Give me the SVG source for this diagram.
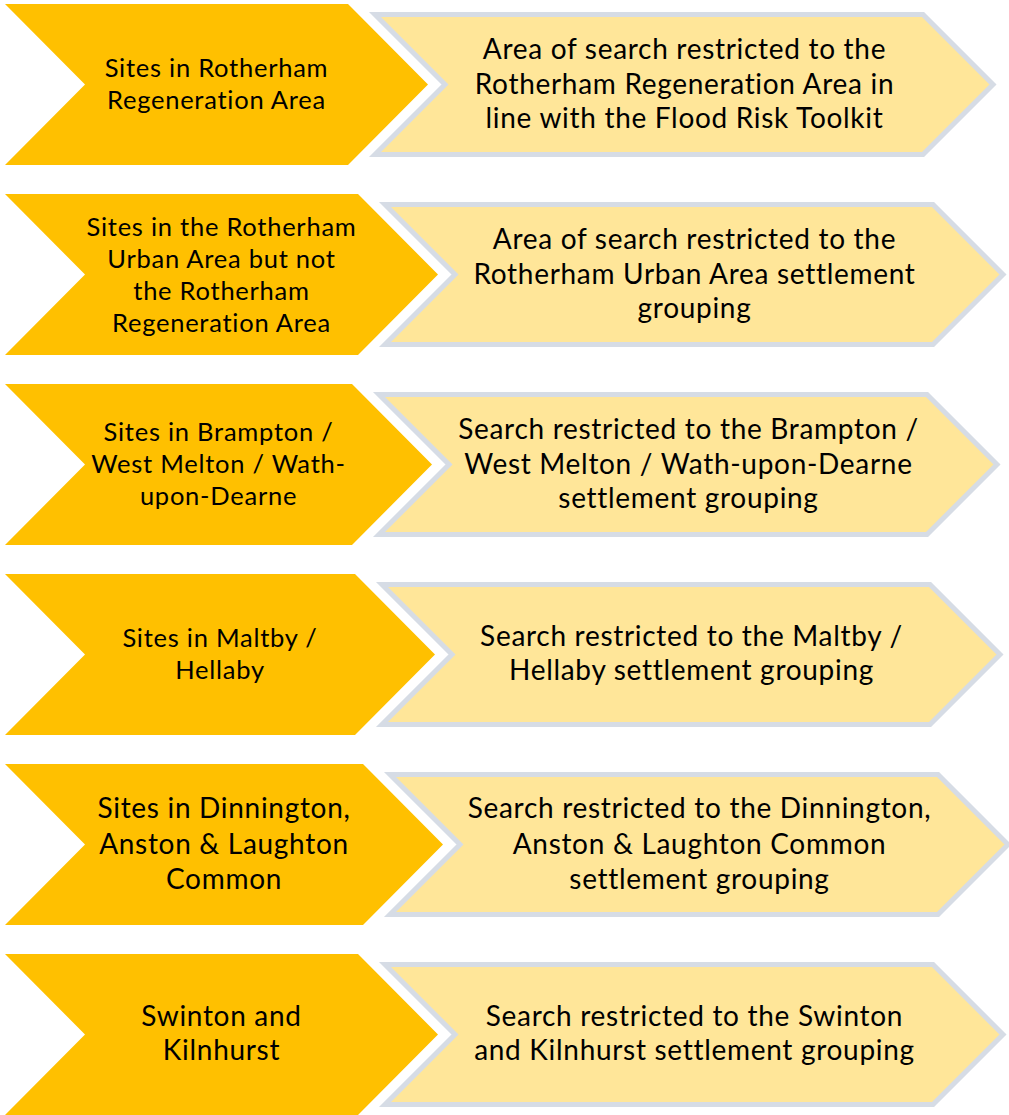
<svg xmlns="http://www.w3.org/2000/svg" width="1009" height="1115" viewBox="0 0 1009 1115">
  <style>
    .lead { fill: #FFC000; }
    .result { fill: #FFE699; stroke: #D6DCE5; stroke-width: 5; stroke-linejoin: miter; }
    text { font-family: Lato, "Liberation Sans", sans-serif; fill: #000000; text-anchor: middle; }
    .ls { font-size: 25.5px; letter-spacing: 0.75px; }
    .lb { font-size: 28px; letter-spacing: 0.7px; }
    .rt { font-size: 28px; letter-spacing: 0.7px; }
  </style>
  <rect width="1009" height="1115" fill="#FFFFFF"/>

  <!-- Row 1 -->
  <g id="lead-1">
    <polygon class="lead" points="5,4 348,4 428,84.5 348,165 5,165 85,84.5"/>
    <text class="ls" x="216.5" y="77">Sites in Rotherham</text>
    <text class="ls" x="216.5" y="109">Regeneration Area</text>
  </g>
  <g id="result-1">
    <polygon class="result" points="375,14.5 923,14.5 993,84.5 923,154.5 375,154.5 445,84.5"/>
    <text class="rt" x="684.5" y="59">Area of search restricted to the</text>
    <text class="rt" x="684.5" y="93.5">Rotherham Regeneration Area in</text>
    <text class="rt" x="684.5" y="128">line with the Flood Risk Toolkit</text>
  </g>

  <!-- Row 2 -->
  <g id="lead-2">
    <polygon class="lead" points="5,194 358,194 438,274.5 358,355 5,355 85,274.5"/>
    <text class="ls" x="221.5" y="236">Sites in the Rotherham</text>
    <text class="ls" x="221.5" y="268">Urban Area but not</text>
    <text class="ls" x="221.5" y="300">the Rotherham</text>
    <text class="ls" x="221.5" y="332">Regeneration Area</text>
  </g>
  <g id="result-2">
    <polygon class="result" points="385,204.5 933,204.5 1003,274.5 933,344.5 385,344.5 455,274.5"/>
    <text class="rt" x="694.5" y="249">Area of search restricted to the</text>
    <text class="rt" x="694.5" y="283.5">Rotherham Urban Area settlement</text>
    <text class="rt" x="694.5" y="318">grouping</text>
  </g>

  <!-- Row 3 -->
  <g id="lead-3">
    <polygon class="lead" points="5,384 352,384 432,464.5 352,545 5,545 85,464.5"/>
    <text class="ls" x="218.5" y="441">Sites in Brampton /</text>
    <text class="ls" x="218.5" y="473">West Melton / Wath-</text>
    <text class="ls" x="218.5" y="505">upon-Dearne</text>
  </g>
  <g id="result-3">
    <polygon class="result" points="379,394.5 927,394.5 997,464.5 927,534.5 379,534.5 449,464.5"/>
    <text class="rt" x="688.5" y="439">Search restricted to the Brampton /</text>
    <text class="rt" x="688.5" y="473.5">West Melton / Wath-upon-Dearne</text>
    <text class="rt" x="688.5" y="508">settlement grouping</text>
  </g>

  <!-- Row 4 -->
  <g id="lead-4">
    <polygon class="lead" points="5,574 355,574 435,654.5 355,735 5,735 85,654.5"/>
    <text class="ls" x="220" y="647">Sites in Maltby /</text>
    <text class="ls" x="220" y="679">Hellaby</text>
  </g>
  <g id="result-4">
    <polygon class="result" points="382,584.5 930,584.5 1000,654.5 930,724.5 382,724.5 452,654.5"/>
    <text class="rt" x="691.5" y="645.5">Search restricted to the Maltby /</text>
    <text class="rt" x="691.5" y="680">Hellaby settlement grouping</text>
  </g>

  <!-- Row 5 -->
  <g id="lead-5">
    <polygon class="lead" points="5,764 363,764 443,844.5 363,925 5,925 85,844.5"/>
    <text class="lb" x="224" y="818">Sites in Dinnington,</text>
    <text class="lb" x="224" y="854">Anston &amp; Laughton</text>
    <text class="lb" x="224" y="889">Common</text>
  </g>
  <g id="result-5">
    <polygon class="result" points="390,774.5 938,774.5 1008,844.5 938,914.5 390,914.5 460,844.5"/>
    <text class="rt" x="699.5" y="817.5">Search restricted to the Dinnington,</text>
    <text class="rt" x="699.5" y="853.5">Anston &amp; Laughton Common</text>
    <text class="rt" x="699.5" y="888.5">settlement grouping</text>
  </g>

  <!-- Row 6 -->
  <g id="lead-6">
    <polygon class="lead" points="5,954 358,954 438,1034.5 358,1115 5,1115 85,1034.5"/>
    <text class="lb" x="221.5" y="1026">Swinton and</text>
    <text class="lb" x="221.5" y="1060">Kilnhurst</text>
  </g>
  <g id="result-6">
    <polygon class="result" points="385,964.5 933,964.5 1003,1034.5 933,1104.5 385,1104.5 455,1034.5"/>
    <text class="rt" x="694.5" y="1025.5">Search restricted to the Swinton</text>
    <text class="rt" x="694.5" y="1060">and Kilnhurst settlement grouping</text>
  </g>

  <!-- no connectors: each lead chevron points into its result chevron -->
  <g id="connectors"/>
</svg>
